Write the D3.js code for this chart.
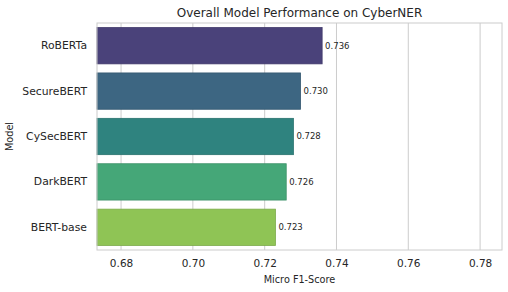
<!DOCTYPE html>
<html><head><meta charset="utf-8">
<script src="https://cdn.jsdelivr.net/npm/d3@7"></script>
<style>body{margin:0;background:#fff}svg{display:block}text{font-family:"DejaVu Sans",sans-serif;fill:#262626}</style>
</head><body><svg id="c" width="508" height="292"></svg>
<script>
const models = ["RoBERTa","SecureBERT","CySecBERT","DarkBERT","BERT-base"];
const scores = [0.736,0.730,0.728,0.726,0.723];
const barColors = ["#4a427a","#3d6682","#2f837f","#45a778","#8fc455"];
const xTicks = [0.68,0.70,0.72,0.74,0.76,0.78];
const xDomain = [0.6733,0.7861];

const svg = d3.select("#c");
const m = {l:97,r:6,t:23,b:42};
const W = 508, H = 292;
const x = d3.scaleLinear().domain(xDomain).range([m.l, W-m.r]);
const y = d3.scaleBand().domain(models).range([m.t, H-m.b]).paddingInner(0.2).paddingOuter(0.1);

// grid
svg.append("g").selectAll("line").data(xTicks).join("line")
  .attr("x1",d=>x(d)).attr("x2",d=>x(d)).attr("y1",m.t).attr("y2",H-m.b)
  .attr("stroke","#cccccc").attr("stroke-width",1);

// bars
svg.append("g").selectAll("rect").data(models).join("rect")
  .attr("x",x(xDomain[0])).attr("y",d=>y(d))
  .attr("width",(d,i)=>x(scores[i])-x(xDomain[0])).attr("height",y.bandwidth())
  .attr("fill",(d,i)=>barColors[i])
  .attr("stroke",(d,i)=>d3.color(barColors[i]).darker(0.4)).attr("stroke-width",0.8);

// value labels
svg.append("g").selectAll("text").data(models).join("text")
  .attr("x",(d,i)=>x(scores[i])+3).attr("y",d=>y(d)+y.bandwidth()/2)
  .attr("dy","0.35em").attr("font-size",8.5).text((d,i)=>scores[i].toFixed(3));

// frame
svg.append("rect").attr("x",m.l).attr("y",m.t).attr("width",W-m.r-m.l).attr("height",H-m.b-m.t)
  .attr("fill","none").attr("stroke","#cccccc").attr("stroke-width",1);

// x axis
const xa = svg.append("g").attr("transform",`translate(0,${H-m.b})`)
  .call(d3.axisBottom(x).tickValues(xTicks).tickFormat(d3.format(".2f")).tickSize(0).tickPadding(10));
xa.select(".domain").remove();
xa.selectAll("text").attr("font-size",10.5).style("font-family","DejaVu Sans").attr("fill","#262626");

// y axis
const ya = svg.append("g").attr("transform",`translate(${m.l},0)`)
  .call(d3.axisLeft(y).tickSize(0).tickPadding(10));
ya.select(".domain").remove();
ya.selectAll("text").attr("font-size",10.8).style("font-family","DejaVu Sans").attr("fill","#262626");

// labels
svg.append("text").attr("x",(m.l+W-m.r)/2).attr("y",17).attr("text-anchor","middle")
  .attr("font-size",12).text("Overall Model Performance on CyberNER");
svg.append("text").attr("x",(m.l+W-m.r)/2).attr("y",283).attr("text-anchor","middle")
  .attr("font-size",9.7).text("Micro F1-Score");
svg.append("text").attr("transform",`translate(13,${(m.t+H-m.b)/2}) rotate(-90)`).attr("text-anchor","middle")
  .attr("font-size",9.7).text("Model");
</script></body></html>
